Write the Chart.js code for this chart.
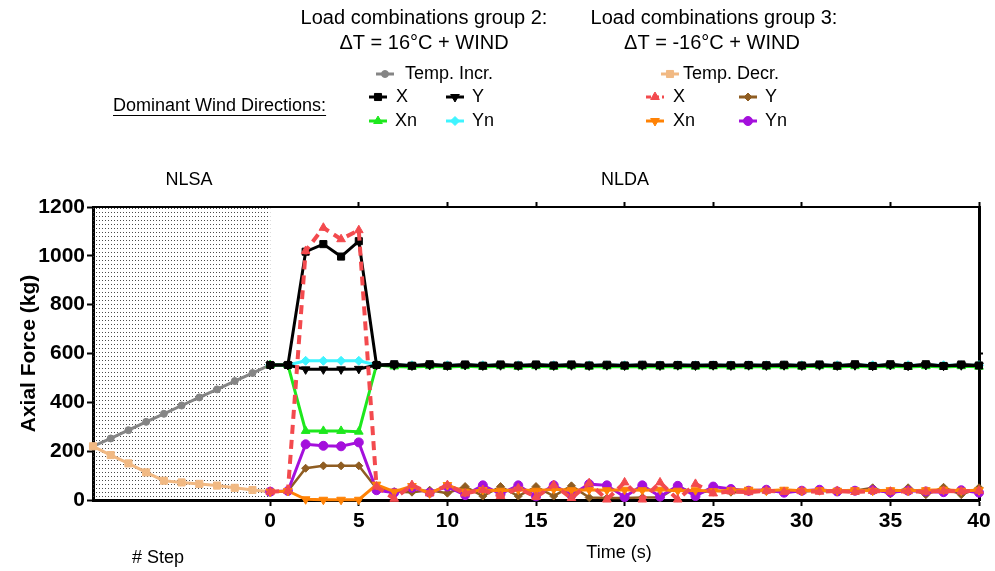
<!DOCTYPE html>
<html>
<head>
<meta charset="utf-8">
<script src="https://cdn.jsdelivr.net/npm/chart.js@4.4.1/dist/chart.umd.min.js"></script>
<style>
  body { margin: 0; background: #fff; }
  #wrap { width: 995px; height: 571px; }
</style>
</head>
<body>
<div id="wrap"><canvas id="axialChart" width="995" height="571"></canvas></div>
<script>
// NLSA: load steps (drawn left of time 0)
var nlsaSteps = [-10, -9, -8, -7, -6, -5, -4, -3, -2, -1, 0];
var tempIncr  = [220, 252, 286, 320, 353, 387, 420, 453, 487, 520, 553];
var tempDecr  = [220, 184, 150, 113, 79, 72, 66, 59, 50, 41, 34];

// NLDA: time in seconds
var nldaTimes = [0, 1, 2, 3, 4, 5, 6, 7, 8, 9, 10, 11, 12, 13, 14, 15, 16, 17, 18, 19, 20,
                 21, 22, 23, 24, 25, 26, 27, 28, 29, 30, 31, 32, 33, 34, 35, 36, 37, 38, 39, 40];

// group 2: dT = +16C + wind
var g2X  = [553, 553, 1017, 1048, 997, 1060, 553, 556, 550, 556, 550, 555, 550, 555, 551, 555, 551, 555, 551, 554, 551,
            554, 552, 553, 552, 553, 552, 553, 552, 554, 551, 555, 550, 556, 549, 556, 549, 556, 549, 555, 551];
var g2Y  = [553, 553, 535, 535, 535, 537, 553, 552, 551, 553, 551, 553, 551, 552, 551, 552, 551, 552, 551, 552, 551,
            552, 551, 552, 551, 552, 551, 552, 551, 552, 551, 552, 551, 552, 550, 553, 550, 553, 550, 552, 551];
var g2Xn = [553, 553, 283, 283, 283, 280, 553, 547, 545, 548, 545, 548, 545, 548, 545, 548, 545, 548, 546, 547, 546,
            547, 546, 547, 546, 547, 546, 547, 546, 547, 546, 548, 545, 548, 545, 548, 545, 548, 545, 548, 546];
var g2Yn = [553, 553, 570, 570, 570, 570, 553, 552, 552, 552, 552, 552, 552, 552, 552, 552, 552, 552, 552, 552, 552,
            552, 552, 552, 552, 552, 552, 552, 552, 552, 552, 552, 552, 552, 552, 552, 552, 552, 552, 552, 552];

// group 3: dT = -16C + wind
var g3X  = [34, 37, 1020, 1115, 1068, 1105, 55, 5, 61, 27, 61, 27, 41, 16, 48, 12, 61, 8, 69, 2, 72,
            2, 72, 2, 66, 27, 35, 32, 38, 33, 36, 34, 37, 33, 37, 34, 36, 34, 37, 35, 38];
var g3Y  = [34, 37, 130, 140, 140, 140, 48, 34, 32, 40, 28, 55, 16, 55, 16, 55, 16, 58, 10, 8, 8,
            10, 10, 55, 27, 40, 32, 35, 38, 33, 35, 38, 33, 38, 50, 25, 50, 22, 52, 22, 50];
var g3Xn = [34, 37, 3, 1, 1, 1, 63, 34, 57, 27, 61, 34, 41, 38, 42, 38, 44, 40, 42, 40, 42,
            40, 42, 38, 40, 36, 40, 42, 38, 42, 38, 40, 38, 40, 38, 40, 38, 40, 42, 38, 40];
var g3Yn = [34, 37, 228, 222, 220, 236, 40, 30, 50, 30, 55, 20, 60, 25, 60, 15, 60, 20, 65, 60, 12,
            60, 14, 58, 16, 55, 45, 38, 42, 30, 38, 42, 35, 38, 40, 32, 38, 35, 32, 40, 30];

var yTicks = [0, 200, 400, 600, 800, 1000, 1200];

var colors = {
    gray: "#858585", tan: "#f1b983", black: "#000000", green: "#1de81d", cyan: "#3ff4ff",
    red: "#f34a4e", brown: "#8f5d22", orange: "#ff8205", purple: "#a410dc"
};

function pts(xs, ys) {
    var out = [];
    for (var i = 0; i < xs.length; i++) out.push({x: xs[i], y: ys[i]});
    return out;
}

function series(label, xs, ys, color, style, radius, extra) {
    var ds = {
        label: label,
        data: pts(xs, ys),
        borderColor: color,
        backgroundColor: color,
        pointBackgroundColor: color,
        pointBorderColor: color,
        pointStyle: style,
        pointRadius: radius,
        pointBorderWidth: 1,
        borderWidth: 3,
        tension: 0,
        clip: false
    };
    for (var k in extra) ds[k] = extra[k];
    return ds;
}

// first dataset is painted on top
var datasets = [
    series("X (gr.3)", nldaTimes, g3X, colors.red, "triangle", 5, {borderDash: [9, 6], borderWidth: 4}),
    series("Xn (gr.3)", nldaTimes, g3Xn, colors.orange, "triangle", 5, {pointRotation: 180}),
    series("Yn (gr.3)", nldaTimes, g3Yn, colors.purple, "circle", 4.5),
    series("Y (gr.3)", nldaTimes, g3Y, colors.brown, "rectRot", 4, {borderWidth: 2.5}),
    series("X (gr.2)", nldaTimes, g2X, colors.black, "rect", 5),
    series("Y (gr.2)", nldaTimes, g2Y, colors.black, "triangle", 5, {pointRotation: 180}),
    series("Xn (gr.2)", nldaTimes, g2Xn, colors.green, "triangle", 5),
    series("Yn (gr.2)", nldaTimes, g2Yn, colors.cyan, "rectRot", 4.5),
    series("Temp. Decr.", nlsaSteps, tempDecr, colors.tan, "rect", 5),
    series("Temp. Incr.", nlsaSteps, tempIncr, colors.gray, "circle", 3.5)
];

function dotPattern(ctx) {
    var c = document.createElement("canvas");
    c.width = 3; c.height = 4;
    var p = c.getContext("2d");
    p.fillStyle = "#4a4a4a";
    p.fillRect(0, 0, 1, 1);
    return ctx.createPattern(c, "repeat");
}

// dotted background of the NLSA part
var nlsaShade = {
    id: "nlsaShade",
    beforeDatasetsDraw: function(chart) {
        var ctx = chart.ctx, x = chart.scales.x, y = chart.scales.y;
        var x0 = x.getPixelForValue(nlsaSteps[0]), x1 = x.getPixelForValue(0);
        var y0 = y.getPixelForValue(1200), y1 = y.getPixelForValue(0);
        ctx.save();
        ctx.fillStyle = dotPattern(ctx);
        ctx.fillRect(x0, y0, x1 - x0, y1 - y0);
        ctx.restore();
    }
};

function legendItem(ctx, cx, cy, color, style, radius, rot, dash, text, tx) {
    ctx.save();
    ctx.strokeStyle = color;
    ctx.fillStyle = color;
    ctx.lineWidth = 3;
    if (dash) ctx.setLineDash(dash);
    ctx.beginPath();
    ctx.moveTo(cx - 9, cy);
    ctx.lineTo(cx + 9, cy);
    ctx.stroke();
    ctx.setLineDash([]);
    ctx.lineWidth = 1;
    Chart.helpers.drawPoint(ctx, {pointStyle: style, radius: radius, rotation: rot || 0, borderWidth: 1}, cx, cy);
    ctx.restore();
    ctx.fillStyle = "#000";
    ctx.textAlign = "left";
    ctx.fillText(text, tx, cy);
}

var annotations = {
    id: "annotations",
    afterDraw: function(chart) {
        var ctx = chart.ctx;
        ctx.save();
        ctx.fillStyle = "#000";
        ctx.textBaseline = "middle";
        ctx.textAlign = "center";
        ctx.font = "20px 'Liberation Sans', Arial, sans-serif";
        ctx.fillText("Load combinations group 2:", 424, 18);
        ctx.fillText("\u0394T = 16\u00b0C + WIND", 424, 43);
        ctx.fillText("Load combinations group 3:", 714, 18);
        ctx.fillText("\u0394T = -16\u00b0C + WIND", 712, 43);

        ctx.font = "18px 'Liberation Sans', Arial, sans-serif";
        legendItem(ctx, 385, 74, colors.gray, "circle", 3.5, 0, null, "Temp. Incr.", 405);
        legendItem(ctx, 670, 74, colors.tan, "rect", 5, 0, null, "Temp. Decr.", 683);

        legendItem(ctx, 378, 97, colors.black, "rect", 5, 0, null, "X", 396);
        legendItem(ctx, 455, 97, colors.black, "triangle", 5, 180, null, "Y", 472);
        legendItem(ctx, 378, 121, colors.green, "triangle", 5, 0, null, "Xn", 395);
        legendItem(ctx, 455, 121, colors.cyan, "rectRot", 4.5, 0, null, "Yn", 472);

        legendItem(ctx, 655, 97, colors.red, "triangle", 5, 0, [5, 3], "X", 673);
        legendItem(ctx, 748, 97, colors.brown, "rectRot", 4, 0, null, "Y", 765);
        legendItem(ctx, 655, 121, colors.orange, "triangle", 5, 180, null, "Xn", 673);
        legendItem(ctx, 748, 121, colors.purple, "circle", 4.5, 0, null, "Yn", 765);

        ctx.textAlign = "left";
        ctx.fillText("Dominant Wind Directions:", 113, 106);
        var w = ctx.measureText("Dominant Wind Directions:").width;
        ctx.fillRect(113, 115, w, 1);

        ctx.textAlign = "center";
        ctx.font = "18px 'Liberation Sans', Arial, sans-serif";
        ctx.fillText("NLSA", 189, 180);
        ctx.fillText("NLDA", 625, 180);
        ctx.fillText("# Step", 158, 558);
        ctx.fillText("Time (s)", 619, 553);
        ctx.restore();
    }
};

var tickColor = function(c) { return c.tick && c.tick.value < 0 ? "rgba(0,0,0,0)" : "#000"; };
var plainLabel = function(v) { return String(v); };

new Chart(document.getElementById("axialChart").getContext("2d"), {
    type: "line",
    data: { datasets: datasets },
    plugins: [nlsaShade, annotations],
    options: {
        responsive: false,
        animation: false,
        layout: { padding: 0 },
        plugins: { legend: { display: false }, tooltip: { enabled: false } },
        scales: {
            x: {
                type: "linear", position: "bottom", min: -10, max: 40,
                afterFit: function(s) { s.height = 71; },
                afterBuildTicks: function(s) { s.ticks = nldaTimes.filter(function(t) { return t % 5 === 0; }).map(function(v) { return {value: v}; }); },
                ticks: { color: "#000", padding: 3, maxRotation: 0, autoSkip: false, callback: plainLabel,
                         font: { family: "'Liberation Sans', Arial", size: 21, weight: "bold" } },
                grid: { drawOnChartArea: false, tickLength: 6, tickWidth: 2, tickColor: tickColor },
                border: { color: "#000", width: 3 }
            },
            xTop: {
                type: "linear", position: "top", min: -10, max: 40,
                afterFit: function(s) { s.height = 207; },
                afterBuildTicks: function(s) { s.ticks = nldaTimes.filter(function(t) { return t % 5 === 0 && t > 0; }).map(function(v) { return {value: v}; }); },
                ticks: { display: false },
                grid: { drawOnChartArea: false, tickLength: 5, tickWidth: 2, tickColor: "#000" },
                border: { color: "#000", width: 2 }
            },
            y: {
                min: 0, max: 1200,
                afterFit: function(s) { s.width = 93; },
                afterBuildTicks: function(s) { s.ticks = yTicks.map(function(v) { return {value: v}; }); },
                ticks: { color: "#000", padding: 2, callback: plainLabel,
                         font: { family: "'Liberation Sans', Arial", size: 21, weight: "bold" } },
                title: { display: true, text: "Axial Force (kg)", color: "#000", padding: { top: 17, bottom: 0 },
                         font: { family: "'Liberation Sans', Arial", size: 21, weight: "bold" } },
                grid: { drawOnChartArea: false, tickLength: 6, tickWidth: 2, tickColor: "#000" },
                border: { color: "#000", width: 3 }
            },
            yRight: {
                position: "right", min: 0, max: 1200,
                afterFit: function(s) { s.width = 16; },
                afterBuildTicks: function(s) { s.ticks = [{value: 600}]; },
                ticks: { display: false },
                grid: { drawOnChartArea: false, tickLength: 4, tickWidth: 2, tickColor: "#000" },
                border: { color: "#000", width: 3 }
            }
        }
    }
});
</script>
</body>
</html>
